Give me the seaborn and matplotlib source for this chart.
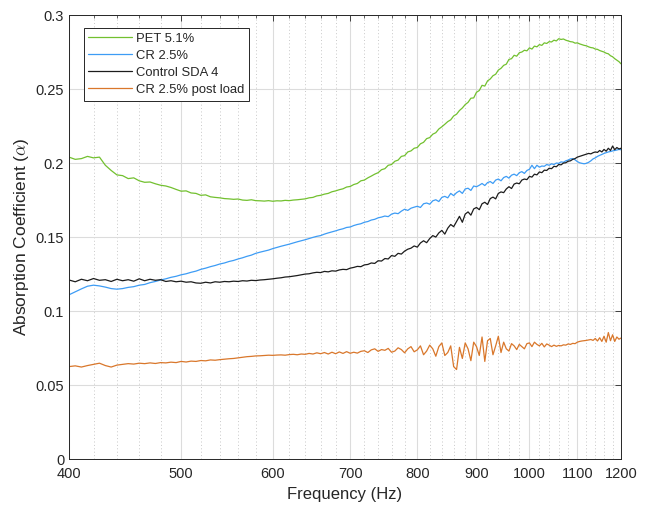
import numpy as np
import pandas as pd
import matplotlib
matplotlib.use("Agg")
import matplotlib.pyplot as plt
from matplotlib.ticker import FixedLocator, FixedFormatter, NullFormatter
import seaborn as sns

# Frequency axis (Hz), 5 Hz steps from 400 to 1200
freq = list(range(400, 1201, 5))

pet_51 = [
    .2040, .2025, .2030, .2045, .2035, .2040, .1985, .1950, .1920, .1915,
    .1895, .1900, .1880, .1870, .1872, .1860, .1850, .1845, .1835, .1822,
    .1810, .1812, .1798, .1795, .1782, .1785, .1772, .1768, .1765, .1760,
    .1758, .1755, .1757, .1750, .1748, .1752, .1746, .1745, .1743, .1746,
    .1742, .1745, .1744, .1748, .1746, .1750, .1752, .1755, .1758, .1765,
    .1768, .1778, .1782, .1790, .1795, .1806, .1812, .1820, .1826, .1838,
    .1842, .1855, .1862, .1880, .1885, .1900, .1912, .1925, .1935, .1955,
    .1962, .1985, .1990, .2012, .2020, .2045, .2050, .2075, .2082, .2100,
    .2105, .2130, .2140, .2165, .2172, .2195, .2205, .2230, .2245, .2262,
    .2280, .2292, .2318, .2330, .2355, .2372, .2395, .2410, .2438, .2440,
    .2478, .2490, .2525, .2520, .2555, .2568, .2590, .2600, .2628, .2640,
    .2660, .2668, .2700, .2705, .2728, .2722, .2745, .2750, .2762, .2758,
    .2778, .2770, .2790, .2785, .2800, .2795, .2812, .2808, .2820, .2818,
    .2830, .2825, .2840, .2835, .2838, .2830, .2825, .2820, .2818, .2810,
    .2812, .2805, .2800, .2795, .2792, .2785, .2780, .2778, .2770, .2768,
    .2760, .2755, .2750, .2742, .2738, .2725, .2718, .2705, .2695, .2685,
    .2670,
]

cr_25 = [
    .1110, .1130, .1150, .1168, .1175, .1170, .1162, .1152, .1148, .1152,
    .1160, .1165, .1175, .1180, .1192, .1200, .1210, .1218, .1228, .1235,
    .1245, .1252, .1262, .1270, .1282, .1290, .1300, .1308, .1318, .1325,
    .1335, .1342, .1352, .1360, .1370, .1378, .1390, .1398, .1405, .1412,
    .1422, .1430, .1438, .1445, .1452, .1460, .1468, .1475, .1482, .1490,
    .1498, .1505, .1510, .1520, .1528, .1535, .1542, .1550, .1556, .1565,
    .1568, .1578, .1585, .1590, .1600, .1605, .1615, .1620, .1630, .1635,
    .1642, .1638, .1655, .1662, .1658, .1675, .1688, .1680, .1695, .1702,
    .1708, .1700, .1725, .1730, .1722, .1745, .1752, .1740, .1768, .1775,
    .1765, .1795, .1780, .1800, .1812, .1795, .1825, .1830, .1815, .1845,
    .1840, .1850, .1862, .1848, .1868, .1875, .1862, .1885, .1892, .1880,
    .1902, .1910, .1898, .1918, .1925, .1915, .1935, .1942, .1930, .1950,
    .1958, .1985, .1962, .1985, .1972, .1980, .1978, .1990, .1985, .1995,
    .1990, .2000, .1998, .2008, .2005, .2015, .2020, .2028, .2030, .2022,
    .2010, .2002, .1998, .1995, .1998, .2005, .2015, .2028, .2035, .2045,
    .2052, .2058, .2065, .2070, .2075, .2078, .2082, .2085, .2088, .2092,
    .2090,
]

control_sda4 = [
    .1210, .1198, .1215, .1205, .1220, .1208, .1212, .1200, .1215, .1205,
    .1212, .1202, .1218, .1205, .1215, .1208, .1212, .1200, .1205, .1198,
    .1202, .1195, .1198, .1190, .1188, .1195, .1190, .1198, .1195, .1200,
    .1198, .1202, .1200, .1205, .1203, .1208, .1206, .1210, .1212, .1215,
    .1218, .1222, .1225, .1230, .1232, .1236, .1240, .1245, .1250, .1252,
    .1258, .1262, .1260, .1268, .1265, .1272, .1270, .1278, .1282, .1280,
    .1290, .1295, .1302, .1300, .1312, .1315, .1325, .1322, .1340, .1338,
    .1355, .1352, .1375, .1370, .1390, .1385, .1405, .1418, .1425, .1440,
    .1432, .1460, .1475, .1462, .1490, .1510, .1500, .1528, .1545, .1520,
    .1560, .1585, .1570, .1605, .1640, .1600, .1655, .1670, .1648, .1690,
    .1700, .1685, .1725, .1735, .1720, .1760, .1770, .1758, .1795, .1805,
    .1800, .1825, .1840, .1828, .1858, .1865, .1860, .1885, .1892, .1888,
    .1910, .1905, .1925, .1920, .1940, .1935, .1952, .1950, .1965, .1962,
    .1978, .1975, .1990, .1988, .2000, .2002, .2012, .2015, .2025, .2030,
    .2040, .2045, .2050, .2055, .2060, .2065, .2062, .2070, .2075, .2072,
    .2085, .2075, .2092, .2080, .2100, .2085, .2115, .2090, .2105, .2095,
    .2100,
]

cr_25_post = [
    .0625, .0630, .0622, .0632, .0640, .0648, .0632, .0622, .0635, .0640,
    .0645, .0642, .0648, .0645, .0650, .0646, .0652, .0650, .0655, .0652,
    .0660, .0656, .0662, .0660, .0666, .0664, .0670, .0668, .0672, .0675,
    .0678, .0680, .0684, .0688, .0692, .0694, .0697, .0698, .0700, .0702,
    .0701, .0703, .0704, .0702, .0706, .0708, .0705, .0710, .0708, .0714,
    .0710, .0718, .0712, .0720, .0710, .0722, .0712, .0724, .0714, .0726,
    .0715, .0722, .0716, .0728, .0732, .0720, .0738, .0745, .0728, .0740,
    .0735, .0748, .0722, .0730, .0752, .0740, .0718, .0745, .0760, .0725,
    .0738, .0765, .0705, .0730, .0770, .0745, .0695, .0760, .0785, .0700,
    .0720, .0765, .0625, .0605, .0755, .0680, .0785, .0745, .0665, .0790,
    .0760, .0700, .0825, .0660, .0800, .0815, .0705, .0765, .0830, .0720,
    .0790, .0745, .0730, .0780, .0765, .0740, .0775, .0760, .0745, .0780,
    .0785, .0760, .0790, .0775, .0765, .0782, .0758, .0778, .0770, .0760,
    .0770, .0762, .0768, .0765, .0772, .0770, .0778, .0775, .0782, .0780,
    .0790, .0795, .0798, .0800, .0802, .0805, .0808, .0802, .0815, .0798,
    .0820, .0795, .0830, .0790, .0855, .0800, .0840, .0795, .0825, .0810,
    .0818,
]

series_names = ["PET 5.1%", "CR 2.5%", "Control SDA 4", "CR 2.5% post load"]
series_colors = ["#72c02f", "#3d9cf5", "#1c1c1c", "#d9772b"]
x_ticks = [400, 500, 600, 700, 800, 900, 1000, 1100, 1200]
y_ticks = [0, 0.05, 0.1, 0.15, 0.2, 0.25, 0.3]
y_tick_labels = ["0", "0.05", "0.1", "0.15", "0.2", "0.25", "0.3"]

df = pd.concat([
    pd.DataFrame({"freq": freq, "alpha": vals, "series": name})
    for name, vals in zip(series_names, [pet_51, cr_25, control_sda4, cr_25_post])
], ignore_index=True)

sns.set_theme(style="white")
plt.rcParams["font.family"] = ["Liberation Sans", "DejaVu Sans"]
plt.rcParams["mathtext.fontset"] = "cm"

fig = plt.figure(figsize=(6.51, 5.09), dpi=100)
ax = fig.add_axes([0.106, 0.098, 0.848, 0.8725])

sns.lineplot(data=df, x="freq", y="alpha", hue="series", hue_order=series_names,
             palette=series_colors, linewidth=0.9, ax=ax, estimator=None, sort=False)

ax.set_xscale("log")
ax.set_xlim(400, 1200)
ax.set_ylim(0, 0.3)

minor = [f for f in range(420, 1200, 20) if f % 100 != 0]
ax.xaxis.set_major_locator(FixedLocator(x_ticks))
ax.xaxis.set_major_formatter(FixedFormatter([str(t) for t in x_ticks]))
ax.xaxis.set_minor_locator(FixedLocator(minor))
ax.xaxis.set_minor_formatter(NullFormatter())
ax.yaxis.set_major_locator(FixedLocator(y_ticks))
ax.yaxis.set_major_formatter(FixedFormatter(y_tick_labels))

ax.grid(True, which="major", color="#dcdcdc", linestyle="-", linewidth=0.8)
ax.grid(True, which="minor", axis="x", color="#c8c8c8", linestyle=(0, (1, 2.5)), linewidth=0.7)
ax.set_axisbelow(True)

ax.tick_params(which="both", direction="in", top=True, right=True, colors="#262626",
               labelsize=10.5, labelcolor="#262626")
ax.tick_params(which="major", length=4, width=0.6)
ax.tick_params(which="minor", length=2.5, width=0.5)
ax.tick_params(axis="x", which="major", pad=6)
for sp in ax.spines.values():
    sp.set_color("#262626")
    sp.set_linewidth(0.7)

ax.set_xlabel("Frequency (Hz)", fontsize=12, color="#262626", labelpad=4)
ax.set_ylabel(r"Absorption Coefficient ($\alpha$)", fontsize=12.5, color="#262626", labelpad=3)

leg = ax.legend(loc="upper left", bbox_to_anchor=(0.027, 0.9707), fontsize=9.4,
                frameon=True, fancybox=False, edgecolor="#262626", framealpha=1,
                handlelength=3.3, handletextpad=0.35, borderpad=0.35, labelspacing=0.38,
                borderaxespad=0)
leg.get_frame().set_linewidth(0.7)
for line in leg.get_lines():
    line.set_linewidth(0.9)

fig.savefig("out.png", dpi=100)
